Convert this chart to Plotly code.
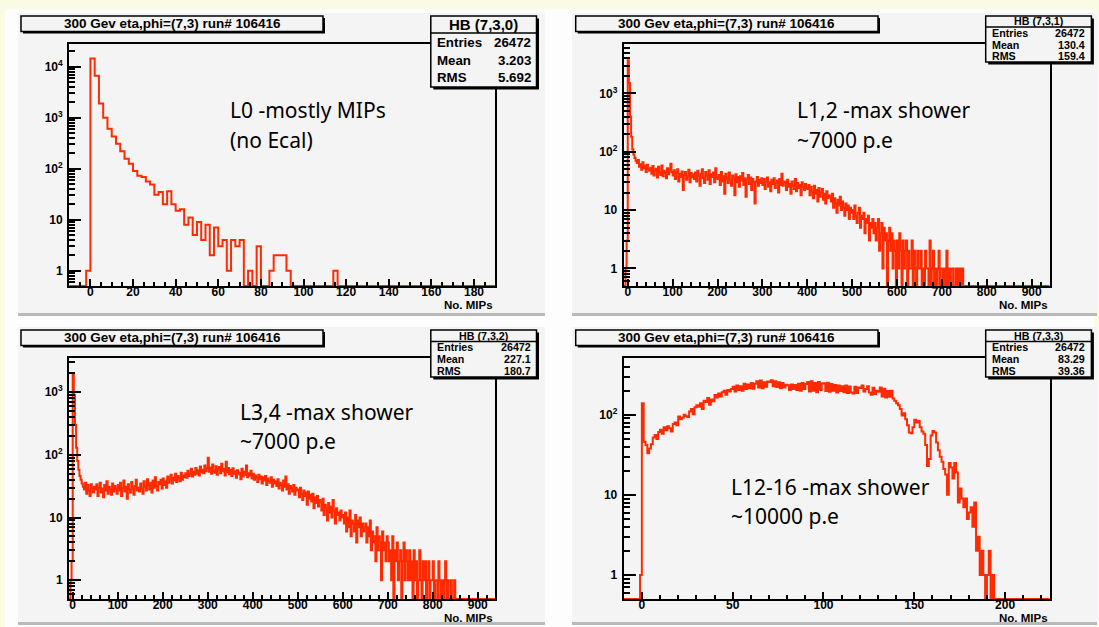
import math
import plotly.graph_objects as go

W, H = 1099, 627

# ---------------- histogram contents (counts per bin) ----------------
# HB (7,3,0): 2-MIP bins starting at -10
l0_lo, l0_bw = -10, 2
l0_counts = [
    0, 0, 0, 0, 1,
    14600, 6650, 1900, 1000, 608, 430, 309, 219, 157, 125,
    90, 73, 69, 56, 49, 31, 35, 20, 36, 20,
    15, 16, 8, 11, 5, 9, 4, 8, 2, 7,
    3, 4, 1, 4, 3, 4, 0, 1, 0, 3,
    0, 0, 1, 2, 2, 2, 1, 0, 0, 0,
    0, 0, 0, 0, 0, 0, 0, 1, 0, 0,
] + [0] * 35

# HB (7,3,1): 2.5-MIP bins starting at -10
l12_lo, l12_bw = -10, 2.5
l12_counts = [
    0, 0, 1, 3,
    3700, 1500, 400, 180, 110, 90, 78, 70, 64, 72, 55, 61, 49, 66, 52, 58, 45, 60, 50, 47,
    53, 42, 57, 39, 48, 51, 36, 55, 44, 40, 58, 38, 47, 43, 35, 52, 41, 49, 62, 45,
    39, 48, 34, 44, 50, 31, 42, 37, 46, 22, 40, 45, 33, 38, 49, 30, 43, 36, 41, 34,
    44, 31, 47, 38, 26, 42, 50, 35, 29, 45, 39, 33, 48, 28, 41, 37, 44, 30, 52, 36,
    34, 40, 27, 45, 31, 38, 19, 42, 35, 29, 44, 33, 26, 39, 36, 18, 41, 30, 37, 25,
    38, 32, 43, 27, 35, 17, 33, 40, 28, 36, 22, 34, 30, 13, 31, 37, 26, 33, 29, 35,
    27, 34, 23, 31, 36, 25, 30, 21, 33, 28, 35, 24, 29, 32, 20, 34, 27, 42, 26, 31,
    30, 22, 33, 25, 28, 19, 31, 26, 23, 34, 21, 29, 24, 27, 18, 30, 25, 22, 28, 24,
    23, 27, 18, 25, 21, 16, 26, 19, 22, 14, 24, 17, 20, 23, 15, 19, 13, 21, 16, 18,
    17, 14, 19, 11, 16, 13, 9, 15, 12, 17, 10, 14, 11, 8, 13, 10, 12, 7, 11, 9,
    10, 7, 12, 8, 6, 9, 11, 5, 8, 7, 9, 4, 7, 6, 8, 3, 6, 5, 7, 4,
    6, 3, 5, 7, 2, 4, 6, 1, 5, 3, 4, 0, 3, 5, 2, 4, 1, 3, 2, 0,
    3, 1, 4, 2, 0, 3, 1, 2, 3, 0, 2, 1, 1, 3, 0, 2, 1, 0, 2, 1,
    1, 2, 0, 1, 0, 2, 1, 1, 0, 3, 0, 1, 2, 0, 1, 0, 1, 2, 0, 1,
    1, 0, 1, 0, 2, 0, 1, 0, 1, 1, 0, 0, 1, 0, 1, 0, 1, 0, 1, 0,
] + [0] * 76

# HB (7,3,2): 2.5-MIP bins starting at -10
l34_lo, l34_bw = -10, 2.5
l34_counts = [
    0, 0, 1, 2,
    2000, 900, 300, 130, 80, 58, 46, 40, 35, 31, 28, 36, 24, 33, 27, 22, 34, 29, 25, 31,
    28, 34, 22, 30, 36, 25, 29, 21, 33, 27, 38, 24, 31, 28, 23, 35, 26, 32, 29, 24,
    33, 27, 36, 22, 30, 39, 26, 31, 20, 34, 28, 25, 37, 29, 23, 32, 40, 27, 30, 26,
    35, 29, 24, 38, 31, 27, 41, 33, 28, 36, 25, 39, 30, 44, 32, 27, 37, 34, 40, 29,
    42, 33, 38, 30, 45, 36, 41, 48, 35, 43, 39, 50, 37, 46, 42, 38, 52, 40, 47, 44,
    51, 43, 56, 46, 49, 60, 45, 54, 48, 62, 50, 57, 47, 65, 53, 58, 51, 68, 55, 61,
    90, 54, 63, 50, 70, 56, 52, 66, 48, 59, 64, 51, 72, 55, 60, 47, 78, 53, 62, 49,
    58, 46, 61, 50, 55, 43, 57, 49, 52, 41, 60, 45, 54, 48, 68, 44, 51, 47, 56, 42,
    50, 40, 47, 43, 37, 48, 41, 45, 35, 44, 39, 46, 33, 42, 38, 36, 44, 31, 40, 35,
    38, 32, 41, 29, 36, 33, 27, 39, 31, 45, 28, 34, 24, 32, 29, 26, 33, 23, 30, 27,
    28, 21, 30, 24, 19, 27, 22, 25, 16, 26, 20, 23, 18, 24, 14, 21, 17, 22, 15, 19,
    18, 13, 20, 11, 16, 14, 9, 17, 12, 15, 10, 19, 13, 8, 14, 11, 12, 9, 13, 10,
    11, 8, 12, 6, 10, 7, 13, 5, 9, 8, 6, 11, 4, 9, 7, 10, 5, 8, 6, 7,
    8, 4, 7, 5, 9, 3, 6, 4, 5, 2, 7, 3, 5, 4, 1, 6, 3, 4, 2, 5,
    4, 2, 3, 1, 5, 0, 3, 2, 4, 1, 2, 3, 0, 2, 4, 1, 3, 2, 1, 3,
    1, 2, 0, 3, 1, 2, 0, 1, 3, 1, 0, 2, 1, 2, 0, 1, 2, 0, 1, 1,
    2, 0, 1, 1, 0, 2, 1, 0, 1, 0, 1, 2, 0, 1, 0, 0, 1, 0, 0, 1,
] + [0] * 36

# HB (7,3,3): 1-MIP bins starting at -10
l1216_lo, l1216_bw = -10, 1
l1216_counts = [
    0, 0, 0, 0, 0, 0, 0, 0, 0, 1,
    140, 46, 42, 33, 38, 43, 52, 56, 50, 61,
    65, 58, 70, 64, 72, 68, 62, 77, 80, 74,
    95, 88, 92, 100, 96, 94, 110, 118, 102, 124,
    132, 126, 140, 118, 150, 145, 162, 134, 155, 148,
    177, 165, 185, 170, 192, 200, 178, 205, 196, 210,
    225, 196, 232, 205, 228, 200, 245, 210, 240, 215,
    250, 212, 245, 262, 220, 268, 215, 255, 225, 260,
    258, 270, 228, 262, 222, 255, 215, 250, 220, 238,
    235, 205, 240, 210, 236, 204, 245, 200, 250, 210,
    242, 258, 195, 262, 200, 250, 192, 258, 205, 246,
    248, 198, 252, 194, 242, 200, 236, 190, 232, 198,
    228, 192, 232, 188, 226, 190, 185, 225, 188, 220,
    216, 232, 196, 210, 228, 190, 178, 218, 182, 200,
    194, 220, 170, 212, 165, 198, 168, 200, 160, 150,
    140, 132, 118, 98, 105, 88, 74, 60, 59, 70,
    87, 80, 84, 70, 62, 58, 42, 23, 28, 55,
    63, 60, 45, 36, 30, 26, 21, 18, 10, 25,
    22, 16, 25, 19, 8, 12, 9, 7, 9, 5,
    6, 7, 4, 8, 2, 3, 1, 2, 1, 0,
    1, 2, 0, 1, 0,
] + [0] * 30

# ---------------- labels ----------------
pad_title = "300 Gev eta,phi=(7,3) run# 106416"
hist_names = ["HB (7,3,0)", "HB (7,3,1)", "HB (7,3,2)", "HB (7,3,3)"]
stat_labels = ["Entries", "Mean", "RMS"]
stat_values = [
    ["26472", "3.203", "5.692"],
    ["26472", "130.4", "159.4"],
    ["26472", "227.1", "180.7"],
    ["26472", "83.29", "39.36"],
]
notes = [
    ["L0 -mostly MIPs", "(no Ecal)"],
    ["L1,2 -max shower", "~7000 p.e"],
    ["L3,4 -max shower", "~7000 p.e"],
    ["L12-16 -max shower", "~10000 p.e"],
]
x_title = "No. MIPs"

# ---------------- page geometry (pixels) ----------------
YELLOW = "#fbfbe4"
PAD = "#f4f4f4"
RED = "#ff2a00"
FONT = "Liberation Sans, Arial, sans-serif"
NOTE_FONT = "Noto Sans, sans-serif"

panels = [
    dict(counts=l0_counts, lo=l0_lo, bw=l0_bw, xr=[-10, 190], ytop=4.447,
         xdt=20, xminor=5, frame=(69.1, 44, 495.3, 286),
         pad=(17, 13, 545, 316), tbox=(21, 16, 323, 31.5),
         sbox=(430.8, 16, 536.5, 87), shead=33, big=True,
         note_xy=(228, 110, 140)),
    dict(counts=l12_counts, lo=l12_lo, bw=l12_bw, xr=[-9, 940], ytop=3.846,
         xdt=100, xminor=20, frame=(623.7, 44, 1049.6, 286),
         pad=(571, 13, 1097, 316), tbox=(575.7, 16, 878, 31.5),
         sbox=(985.7, 16, 1091.4, 62), shead=27, big=False,
         note_xy=(794.6, 110, 140)),
    dict(counts=l34_counts, lo=l34_lo, bw=l34_bw, xr=[-8, 939], ytop=3.547,
         xdt=100, xminor=20, frame=(69.1, 358, 495.3, 599),
         pad=(17, 327, 545, 625), tbox=(21, 330, 323, 345.5),
         sbox=(430.8, 330, 536.5, 377), shead=341.5, big=False,
         note_xy=(237.8, 411.7, 440.7)),
    dict(counts=l1216_counts, lo=l1216_lo, bw=l1216_bw, xr=[-10, 224.5], ytop=2.71,
         xdt=50, xminor=10, frame=(623.7, 358, 1049.6, 599),
         pad=(571, 327, 1097, 625), tbox=(575.7, 330, 878, 345.5),
         sbox=(985.7, 330, 1091.4, 377), shead=341.5, big=False,
         note_xy=(728.6, 486.7, 516)),
]

Y_FLOOR = 0.5


def fx(x):
    return x / W


def fy(y):
    return 1 - y / H


def rect(x0, y0, x1, y1, fill=None, line=None, lw=0, layer="below"):
    return dict(type="rect", xref="paper", yref="paper",
                x0=fx(x0), x1=fx(x1), y0=fy(y1), y1=fy(y0),
                fillcolor=fill or "rgba(0,0,0,0)",
                line=dict(color=line or "rgba(0,0,0,0)", width=lw),
                layer=layer)


def hline(x0, x1, y, color, lw, layer="below"):
    return dict(type="line", xref="paper", yref="paper",
                x0=fx(x0), x1=fx(x1), y0=fy(y), y1=fy(y),
                line=dict(color=color, width=lw), layer=layer)


fig = go.Figure()
shapes = []
annotations = []

# white canvas inside the yellow border
shapes.append(rect(5, 9, 1094, 627, fill="#fdfdfd"))

for i, p in enumerate(panels):
    n = i + 1
    xa = "x" if n == 1 else f"x{n}"
    ya = "y" if n == 1 else f"y{n}"
    xk = "xaxis" if n == 1 else f"xaxis{n}"
    yk = "yaxis" if n == 1 else f"yaxis{n}"

    counts = p["counts"]
    edges = [p["lo"] + k * p["bw"] for k in range(len(counts) + 1)]
    shown = [c if c > 0 else Y_FLOOR for c in counts]
    fig.add_trace(go.Scatter(
        x=edges, y=shown + [shown[-1]], mode="lines", line_shape="hv",
        line=dict(color=RED, width=2), xaxis=xa, yaxis=ya,
        hoverinfo="skip", showlegend=False))

    fx0, fy0, fx1, fy1 = p["frame"]
    ytop = p["ytop"]
    ymin = math.log10(Y_FLOOR)

    dec_vals, dec_text, minor_vals = [], [], []
    for e in range(-1, 6):
        d = 10 ** e
        if ymin - 1e-9 <= e <= ytop:
            dec_vals.append(d)
            dec_text.append("1" if e == 0 else ("10" if e == 1 else f"10<sup>{e}</sup>"))
        for m in range(2, 10):
            v = m * d
            if ymin - 1e-9 <= math.log10(v) <= ytop:
                minor_vals.append(v)

    fig.update_layout({
        xk: dict(domain=[fx(fx0), fx(fx1)], anchor=ya, range=p["xr"],
                 showgrid=False, zeroline=False, showline=True, mirror=True,
                 linecolor="black", linewidth=2,
                 ticks="inside", ticklen=7, tickwidth=2, tickcolor="black",
                 tickmode="linear", tick0=0, dtick=p["xdt"],
                 minor=dict(ticks="inside", ticklen=4, tickwidth=1.5,
                            tickcolor="black", dtick=p["xminor"], tick0=0),
                 tickfont=dict(family=FONT, size=12, color="black", weight="bold"),
                 ticklabelstandoff=-6),
        yk: dict(domain=[fy(fy1), fy(fy0)], anchor=xa, type="log",
                 range=[ymin, ytop], showgrid=False, zeroline=False,
                 showline=True, mirror=True, linecolor="black", linewidth=2,
                 ticks="inside", ticklen=12, tickwidth=2, tickcolor="black",
                 tickmode="array", tickvals=dec_vals, ticktext=dec_text,
                 minor=dict(ticks="inside", ticklen=6, tickwidth=1.5,
                            tickcolor="black", tickmode="array",
                            tickvals=minor_vals),
                 tickfont=dict(family=FONT, size=12, color="black", weight="bold"),
                 ticklabelstandoff=2),
    })

    # pad with darker bottom edge
    px0, py0, px1, py1 = p["pad"]
    shapes.append(rect(px0, py0, px1, py1, fill=PAD))
    shapes.append(rect(px0, py1 - 3, px1, py1, fill="#b9b9b9"))
    shapes.append(rect(px0, py0, px0 + 1, py1, fill="#ffffff"))

    # title box
    tx0, ty0, tx1, ty1 = p["tbox"]
    shapes.append(rect(tx0 + 2, ty0 + 2, tx1 + 2, ty1 + 2, fill="black", layer="above"))
    shapes.append(rect(tx0, ty0, tx1, ty1, fill=PAD, line="black", lw=1.5, layer="above"))
    annotations.append(dict(
        x=fx((tx0 + tx1) / 2), y=fy((ty0 + ty1) / 2), xref="paper", yref="paper",
        text=pad_title, showarrow=False, xanchor="center", yanchor="middle",
        font=dict(family=FONT, size=13.5, color="black", weight="bold")))

    # statistics box
    sx0, sy0, sx1, sy1 = p["sbox"]
    hy = p["shead"]
    shapes.append(rect(sx0 + 2.5, sy0 + 2.5, sx1 + 2.5, sy1 + 2.5, fill="black", layer="above"))
    shapes.append(rect(sx0, sy0, sx1, sy1, fill=PAD, line="black", lw=1.5, layer="above"))
    shapes.append(hline(sx0, sx1, hy, "black", 1.5, layer="above"))
    hsize = 15 if p["big"] else 10.7
    rsize = 13.3 if p["big"] else 10.7
    annotations.append(dict(
        x=fx((sx0 + sx1) / 2), y=fy((sy0 + hy) / 2), xref="paper", yref="paper",
        text=hist_names[i], showarrow=False, xanchor="center", yanchor="middle",
        font=dict(family=FONT, size=hsize, color="black", weight="bold")))
    row_h = (sy1 - hy) / 3
    for r in range(3):
        yc = hy + row_h * (r + 0.5)
        annotations.append(dict(
            x=fx(sx0 + 4), y=fy(yc), xref="paper", yref="paper",
            text=stat_labels[r], showarrow=False, xanchor="left", yanchor="middle",
            font=dict(family=FONT, size=rsize, color="black", weight="bold")))
        annotations.append(dict(
            x=fx(sx1 - 4), y=fy(yc), xref="paper", yref="paper",
            text=stat_values[i][r], showarrow=False, xanchor="right", yanchor="middle",
            font=dict(family=FONT, size=rsize, color="black", weight="bold")))

    # x-axis title
    annotations.append(dict(
        x=fx(fx1), y=fy(fy1 + 19), xref="paper", yref="paper", text=x_title,
        showarrow=False, xanchor="right", yanchor="middle",
        font=dict(family=FONT, size=11.5, color="black", weight="bold")))

    # hand-written notes
    nx, ny1, ny2 = p["note_xy"]
    for txt, yy in zip(notes[i], (ny1, ny2)):
        annotations.append(dict(
            x=fx(nx), y=fy(yy), xref="paper", yref="paper", text=txt,
            showarrow=False, xanchor="left", yanchor="middle",
            font=dict(family=NOTE_FONT, size=21, color="black")))

fig.update_layout(
    width=W, height=H, margin=dict(l=0, r=0, t=0, b=0),
    paper_bgcolor=YELLOW, plot_bgcolor="rgba(0,0,0,0)",
    shapes=shapes, annotations=annotations, showlegend=False,
)

fig.write_html("out.html")
